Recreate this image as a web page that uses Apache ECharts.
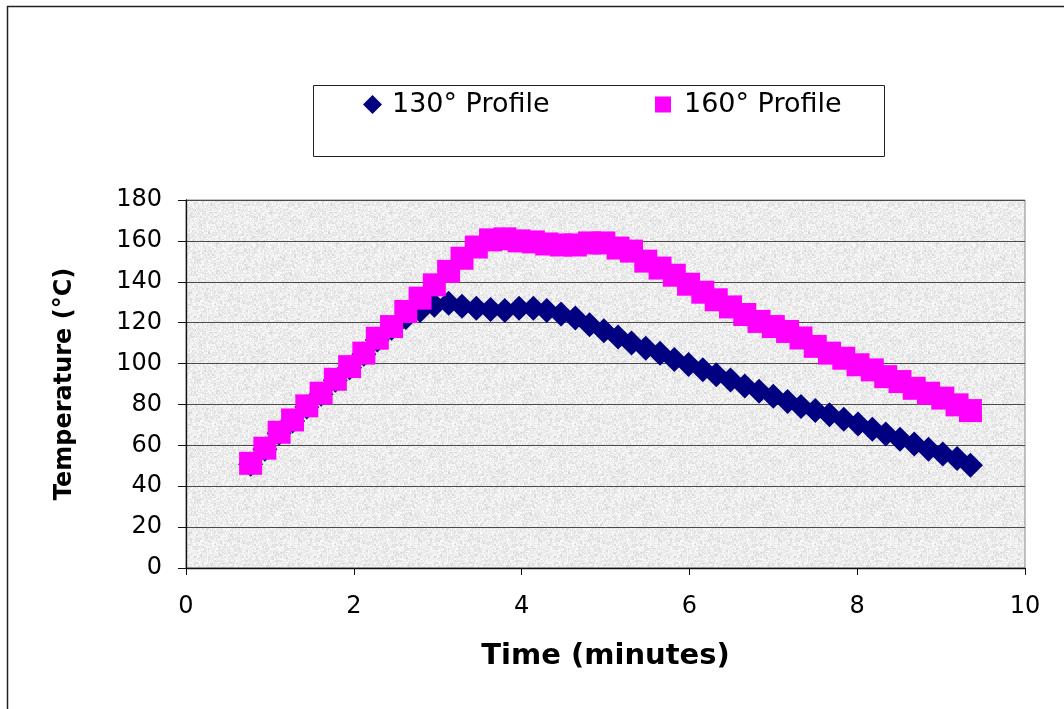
<!DOCTYPE html>
<html><head><meta charset="utf-8">
<script src="https://cdn.jsdelivr.net/npm/echarts@6/dist/echarts.min.js"></script>
<style>html,body{margin:0;padding:0;background:#fff}#c{width:1064px;height:709px}</style>
</head><body><div id="c"></div>
<script>
// ---- data ----
const timeMinutes = [0.77, 0.94, 1.11, 1.27, 1.44, 1.61, 1.78, 1.95, 2.12, 2.28, 2.45, 2.62, 2.79, 2.96, 3.13, 3.29,
  3.46, 3.63, 3.80, 3.97, 4.14, 4.30, 4.47, 4.64, 4.81, 4.98, 5.15, 5.31, 5.48, 5.65, 5.82, 5.99,
  6.16, 6.32, 6.49, 6.66, 6.83, 7.00, 7.17, 7.33, 7.50, 7.67, 7.84, 8.01, 8.18, 8.34, 8.51, 8.68,
  8.85, 9.02, 9.19, 9.35];
const profile130 = [50.7, 58.1, 65.9, 71.9, 78.8, 85, 91.8, 98, 104.6, 111.5, 117.3, 122.5, 126, 128.5, 129.5, 128,
  127, 126.5, 126, 127, 127, 126, 124.2, 122.3, 119, 116, 113, 110, 107.5, 105, 102, 99.5,
  97, 94.5, 92, 89, 86.5, 84, 81.5, 79, 77, 75, 72.7, 70.4, 67.9, 65.5, 63, 60.6,
  58.1, 55.7, 53.6, 50.3];
const profile160 = [51.2, 58.6, 66.4, 72.4, 79.3, 85.5, 92.3, 98.5, 105.1, 112.4, 118.1, 125.5, 132, 138.5, 145.1, 151.5,
  157, 160.5, 161, 160, 159.5, 158.5, 158, 158, 159, 159, 156.5, 155, 150.1, 146.7, 143.2, 138.8,
  134.9, 131.2, 127.7, 124, 120.6, 118.1, 115.7, 112.5, 108.4, 105.1, 102.6, 99.4, 96.9, 93.6, 91.2, 87.9,
  85.5, 83.1, 79.8, 77];
const seriesNames = ['130° Profile', '160° Profile'];
const xAxisTitle = 'Time (minutes)';
const yAxisTitle = 'Temperature (°C)';
const xRange = [0, 10, 2];
const yRange = [0, 180, 20];

// ---- granite-like texture for the plot area (deterministic hash) ----
function hash(i, j) {
  let n = Math.imul(i, 374761393) + Math.imul(j, 668265263);
  n = Math.imul(n ^ (n >>> 13), 1274126177);
  n = n ^ (n >>> 16);
  return (n >>> 0) / 4294967296;
}
const tex = document.createElement('canvas');
tex.width = 120; tex.height = 120;
const tctx = tex.getContext('2d');
const img = tctx.createImageData(120, 120);
for (let y = 0; y < 120; y++) {
  for (let x = 0; x < 120; x++) {
    const coarse = hash(x >> 1, (y >> 1) + 999);
    const fine = hash(x, y);
    let g = 238 + (fine - 0.5) * 22 + (coarse - 0.5) * 18;
    if (coarse > 0.9) g -= 22;
    if (fine > 0.93) g += 12;
    g = Math.max(190, Math.min(253, Math.round(g)));
    const p = (y * 120 + x) * 4;
    img.data[p] = g; img.data[p + 1] = g; img.data[p + 2] = g; img.data[p + 3] = 255;
  }
}
tctx.putImageData(img, 0, 0);

const chart = echarts.init(document.getElementById('c'), null, {renderer: 'canvas'});
const font = 'DejaVu Sans';
chart.setOption({
  animation: false,
  backgroundColor: '#fff',
  grid: {
    left: 186, right: 39, top: 200, bottom: 141,
    show: true,
    backgroundColor: {image: tex, repeat: 'repeat'},
    borderColor: '#8a8a8a', borderWidth: 1
  },
  graphic: [
    {type: 'rect', z: 0, silent: true,
     shape: {x: 7.5, y: 6.5, width: 1100, height: 800},
     style: {fill: null, stroke: '#222', lineWidth: 1.5}},
    {type: 'rect', z: 0, silent: true,
     shape: {x: 313.5, y: 85.5, width: 571, height: 71},
     style: {fill: '#fff', stroke: '#222', lineWidth: 1}}
  ],
  legend: [
    {data: [seriesNames[0]], left: 363, top: 91, itemWidth: 19, itemHeight: 19, itemGap: 0,
     padding: 0, textStyle: {fontFamily: font, fontSize: 27, color: '#000', padding: [0, 0, 0, 5]}},
    {data: [seriesNames[1]], left: 655, top: 91, itemWidth: 16, itemHeight: 16, itemGap: 0,
     padding: 0, textStyle: {fontFamily: font, fontSize: 27, color: '#000', padding: [0, 0, 0, 8]}}
  ],
  xAxis: {
    type: 'value', min: xRange[0], max: xRange[1], interval: xRange[2],
    name: xAxisTitle, nameLocation: 'middle', nameGap: 74,
    nameTextStyle: {fontFamily: font, fontSize: 29, fontWeight: 'bold', color: '#000'},
    axisLine: {lineStyle: {color: '#111', width: 1.3}},
    axisTick: {length: 7, lineStyle: {color: '#111'}},
    axisLabel: {fontFamily: font, fontSize: 24, color: '#000', margin: 27},
    splitLine: {show: false}
  },
  yAxis: {
    type: 'value', min: yRange[0], max: yRange[1], interval: yRange[2],
    name: yAxisTitle, nameLocation: 'middle', nameGap: 109, nameRotate: 90,
    nameTextStyle: {fontFamily: font, fontSize: 24, fontWeight: 'bold', color: '#000'},
    axisLine: {show: true, lineStyle: {color: '#111', width: 1.3}},
    axisTick: {show: true, length: 8, lineStyle: {color: '#111'}},
    axisLabel: {fontFamily: font, fontSize: 24, color: '#000', margin: 24},
    splitLine: {show: true, lineStyle: {color: '#4a4a4a', width: 1}}
  },
  series: [
    {name: seriesNames[0], type: 'scatter', symbol: 'diamond', symbolSize: 25,
     itemStyle: {color: '#000080', opacity: 1},
     data: timeMinutes.map((t, i) => [t, profile130[i]])},
    {name: seriesNames[1], type: 'scatter', symbol: 'rect', symbolSize: 23,
     itemStyle: {color: '#ff00ff', opacity: 1},
     data: timeMinutes.map((t, i) => [t, profile160[i]])}
  ]
});
</script></body></html>
